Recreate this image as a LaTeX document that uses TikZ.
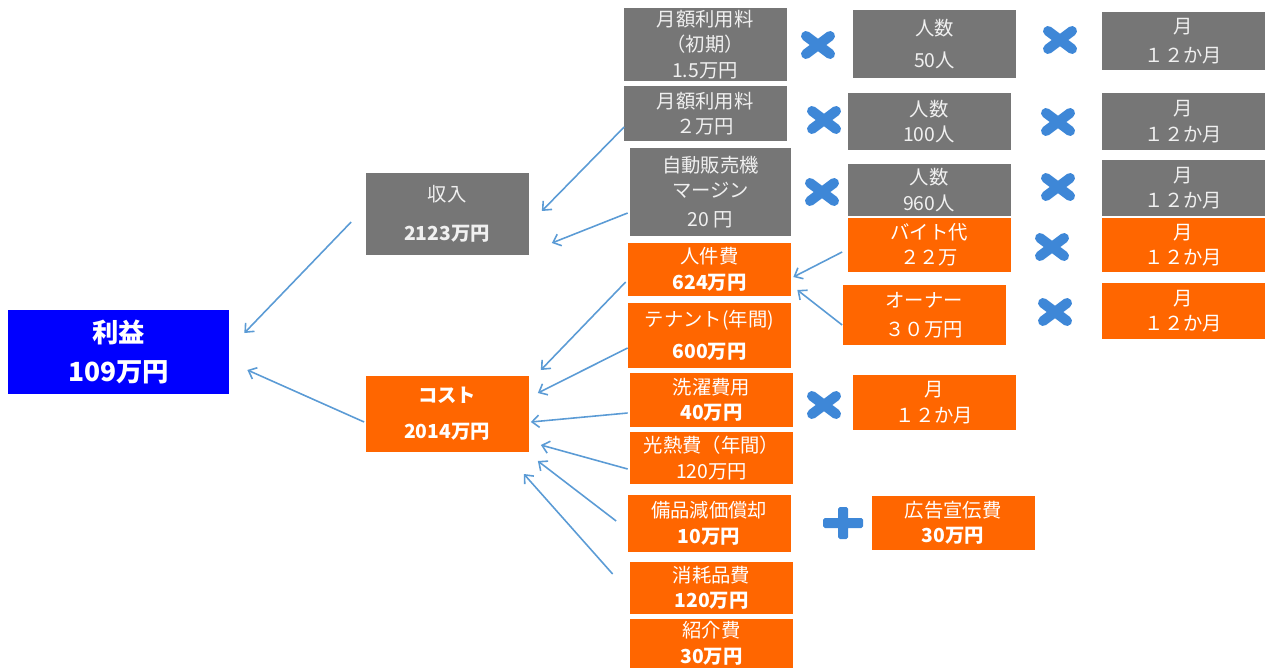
\documentclass[tikz,border=0pt]{standalone}
\usepackage{fontspec}
\setmainfont{Noto Sans CJK JP}
\usetikzlibrary{arrows.meta,calc}
\definecolor{boxgray}{RGB}{118,118,118}
\definecolor{boxorange}{RGB}{255,102,0}
\definecolor{boxblue}{RGB}{0,0,255}
\definecolor{linkblue}{RGB}{91,155,213}
\definecolor{markblue}{RGB}{62,135,215}

\begin{document}
\begin{tikzpicture}[x=0.2mm,y=-0.2mm,
    box/.style={inner sep=0pt, minimum width=32.6mm, align=center, font=\fontsize{11}{14.5}\selectfont},
    gbox/.style={box, fill=boxgray, text=gray!12},
    obox/.style={box, fill=boxorange, text=white},
    link/.style={draw=linkblue, line width=0.9pt, -{Straight Barb[length=4pt,width=7pt]}},
    timesmark/.pic={\draw[markblue, line width=2mm, line cap=round] (-12,-9) -- (12,9) (-12,9) -- (12,-9);},
    plusmark/.pic={\fill[markblue, rounded corners=1pt] (-20,-5) rectangle (20,5) (-5,-16) rectangle (5,16);}]
        \useasboundingbox (0,0) rectangle (1265,668);

        \node[box, fill=boxblue, text=white, minimum width=44.2mm, minimum height=16.8mm, font=\fontsize{15}{22}\selectfont\bfseries] (profit) at (118.5,352) {利益\\109万円};
        \node[gbox, minimum height=16.4mm] (income) at (447,214) {収入\\[8pt]\textbf{2123万円}};
        \node[obox, minimum height=15.2mm] (cost) at (447,414) {\textbf{コスト}\\[6pt]\textbf{2014万円}};

        \node[gbox, minimum height=14.6mm] (initfee) at (705,44.5) {月額利用料\\（初期）\\1.5万円};
        \node[gbox, minimum height=11mm] (monthfee) at (705,113.5) {月額利用料\\２万円};
        \node[gbox, minimum width=32.2mm, minimum height=17.6mm] (vending) at (710.5,192) {自動販売機\\マージン\\[2pt]20 円};
        \node[obox, minimum height=10.6mm] (labor) at (709.5,269.5) {人件費\\\textbf{624万円}};
        \node[obox, minimum height=13mm] (tenant) at (709.5,335.5) {テナント(年間)\\[4pt]\textbf{600万円}};
        \node[obox, minimum height=10.8mm] (laundry) at (711.5,400) {洗濯費用\\\textbf{40万円}};
        \node[obox, minimum height=10.4mm] (utility) at (711.5,458) {光熱費（年間）\\120万円};
        \node[obox, minimum height=11.4mm] (equip) at (709,523.5) {備品減価償却\\\textbf{10万円}};
        \node[obox, minimum height=10.4mm] (supply) at (711.5,588) {消耗品費\\\textbf{120万円}};
        \node[obox, minimum height=9.8mm] (referral) at (711.5,643.5) {紹介費\\\textbf{30万円}};

        \node[gbox, minimum height=13.6mm] (users50) at (934.5,44) {人数\\[4pt]50人};
        \node[gbox, minimum height=11.4mm] (users100) at (929,121.5) {人数\\100人};
        \node[gbox, minimum height=10.4mm] (users960) at (929,190) {人数\\960人};
        \node[obox, minimum height=10.8mm] (parttime) at (929,245) {バイト代\\２２万};
        \node[obox, minimum height=12mm] (owner) at (924,315) {オーナー\\[2pt]３０万円};
        \node[obox, minimum height=11mm] (laundrymonths) at (934.5,402.5) {月\\１２か月};
        \node[obox, minimum height=10.8mm] (advert) at (953,523) {広告宣伝費\\\textbf{30万円}};

        \node[gbox, minimum height=11.6mm] (months1) at (1183.5,41) {月\\[2pt]１２か月};
        \node[gbox, minimum height=11.4mm] (months2) at (1183.5,121.5) {月\\１２か月};
        \node[gbox, minimum height=11.2mm] (months3) at (1183.5,188) {月\\１２か月};
        \node[obox, minimum height=10.8mm] (months4) at (1183.5,245) {月\\１２か月};
        \node[obox, minimum height=11.2mm] (months5) at (1183.5,311) {月\\１２か月};

        \pic at (818,45) {timesmark};
        \pic at (1060,40) {timesmark};
        \pic at (824,120) {timesmark};
        \pic at (1058,122) {timesmark};
        \pic at (822,192) {timesmark};
        \pic at (1058,187) {timesmark};
        \pic at (1052,247) {timesmark};
        \pic at (1055,312) {timesmark};
        \pic at (824,405) {timesmark};
        \pic at (843,523) {plusmark};

        \draw[link] ($(income.west)+(-14,8)$) -- ($(profit.east)+(15,-19)$);
        \draw[link] ($(cost.west)+(-1,8)$) -- ($(profit.east)+(18,18)$);
        \draw[link] ($(monthfee.west)+(1,13.5)$) -- ($(income.east)+(13,-3)$);
        \draw[link] ($(vending.west)+(-2,21)$) -- ($(income.east)+(23,29)$);
        \draw[link] ($(labor.west)+(-2,12.5)$) -- ($(cost.east)+(12,-44)$);
        \draw[link] ($(tenant.west)+(0,12.5)$) -- ($(cost.east)+(9,-21)$);
        \draw[link] ($(laundry.west)+(-2,13)$) -- ($(cost.east)+(2,8)$);
        \draw[link] ($(utility.west)+(-2,11)$) -- ($(cost.east)+(12,31)$);
        \draw[link] ($(equip.west)+(-11,-2.5)$) -- ($(cost.east)+(9,47)$);
        \draw[link] ($(supply.west)+(-17,-14)$) -- ($(cost.east)+(-5,60)$);
        \draw[link] ($(parttime.west)+(-5,7)$) -- ($(labor.east)+(2,7.5)$);
        \draw[link] ($(owner.west)+(0,10)$) -- ($(labor.east)+(6,20.5)$);
    \end{tikzpicture}
\end{document}
